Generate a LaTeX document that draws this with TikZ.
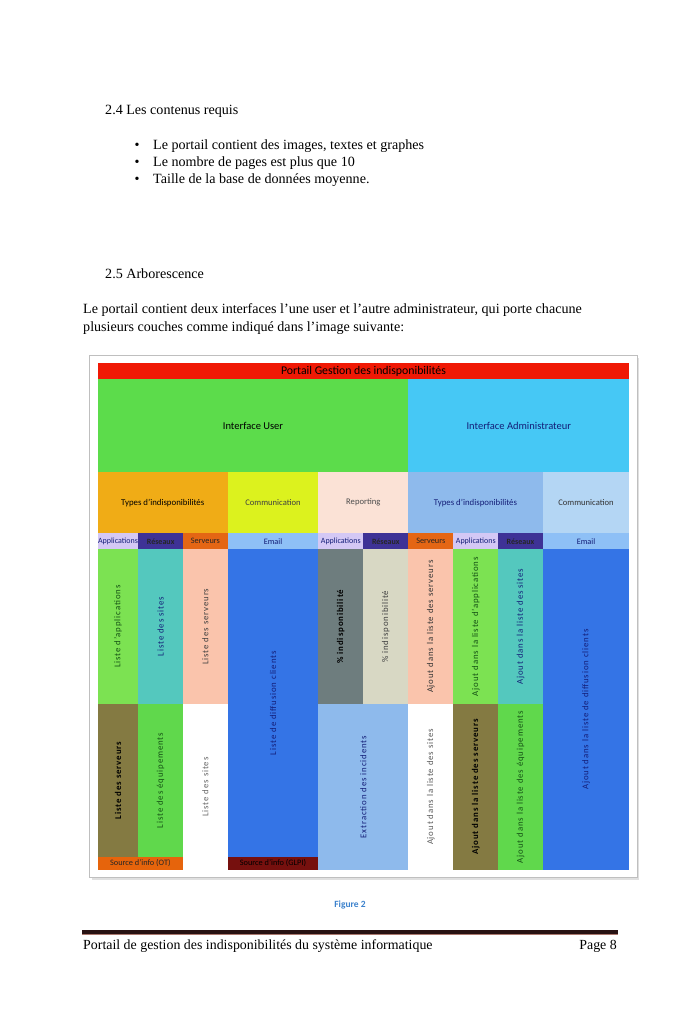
\documentclass[tikz,border=0pt]{standalone}
\usepackage{fontspec}
\setmainfont{Liberation Serif}
\newfontfamily\calfont{Carlito}
\newfontfamily\calspfont[LetterSpace=10]{Carlito}
\definecolor{redbar}{RGB}{240,25,5}
\definecolor{iuser}{RGB}{92,220,75}
\definecolor{iadmin}{RGB}{70,200,245}
\definecolor{typesu}{RGB}{240,172,22}
\definecolor{commu}{RGB}{220,242,30}
\definecolor{report}{RGB}{251,226,214}
\definecolor{typesa}{RGB}{142,186,236}
\definecolor{comma}{RGB}{180,214,244}
\definecolor{hlav}{RGB}{212,200,245}
\definecolor{hind}{RGB}{62,50,150}
\definecolor{hser}{RGB}{228,102,20}
\definecolor{hemail}{RGB}{142,192,246}
\definecolor{lgreen}{RGB}{124,226,82}
\definecolor{tealc}{RGB}{84,200,190}
\definecolor{peach}{RGB}{250,196,172}
\definecolor{dblue}{RGB}{52,116,230}
\definecolor{grayc}{RGB}{110,125,126}
\definecolor{beige}{RGB}{216,216,196}
\definecolor{olive}{RGB}{132,122,66}
\definecolor{greenc}{RGB}{96,216,76}
\definecolor{srcor}{RGB}{230,100,12}
\definecolor{srcred}{RGB}{118,16,14}
\definecolor{extr}{RGB}{142,186,236}
\definecolor{navy}{RGB}{20,30,120}
\definecolor{dgreen}{RGB}{20,80,20}
\definecolor{figblue}{RGB}{60,130,205}
\definecolor{footdark}{RGB}{40,18,18}
\definecolor{footlight}{RGB}{170,120,110}
\tikzset{
  cellbox/.style={draw=none, inner sep=0pt, outer sep=0pt, anchor=north west, align=center},
  vtext/.style={rotate=90, inner sep=0pt, font={\calspfont\fontsize{8.8}{10}\selectfont}},
  vbold/.style={vtext, font={\calspfont\bfseries\fontsize{8.8}{10}\selectfont}},
  body/.style={inner sep=0pt, anchor=base west, font={\fontsize{14.1}{16}\selectfont}},
}
\newcommand\cellat[7]{\node[cellbox, fill=#6, minimum width={(#4-#2)*1pt}, minimum height={(#5-#3)*1pt}] (#1) at (#2,#3) {#7};}
\begin{document}
\begin{tikzpicture}[x=1pt,y=-1pt]
\useasboundingbox[fill=white] (0,0) rectangle (700,1028);
% page text
\node[body] (t24) at (105,114) {2.4 Les contenus requis};
\node[body, anchor=base] (b1) at (137,149) {\textbullet};
\node[body] (l1t) at (153,149) {Le portail contient des images, textes et graphes};
\node[body, anchor=base] (b2) at (137,166) {\textbullet};
\node[body] (l2t) at (153,166) {Le nombre de pages est plus que 10};
\node[body, anchor=base] (b3) at (137,183) {\textbullet};
\node[body] (l3t) at (153,183) {Taille de la base de données moyenne.};
\node[body] (t25) at (105,278) {2.5 Arborescence};
\node[body] (p1) at (83,313) {Le portail contient deux interfaces l’une user et l’autre administrateur, qui porte chacune};
\node[body] (p2) at (83,331) {plusieurs couches comme indiqué dans l’image suivante:};
% frame
\fill[black!12] (91.5,357.5) rectangle (639,880);
\draw[black!25, fill=white] (89.5,355) rectangle (636.7,877);
% top
\cellat{title}{97.7}{363.3}{629.3}{379.3}{redbar}{\calfont\fontsize{11.8}{12}\selectfont Portail Gestion des indisponibilités}
\cellat{iu}{97.7}{379.3}{408.3}{472}{iuser}{\calfont\fontsize{10.5}{12}\selectfont Interface User}
\cellat{ia}{408.3}{379.3}{629.3}{472}{iadmin}{\calfont\fontsize{10.5}{12}\selectfont\color{navy}Interface Administrateur}
% row 2
\cellat{tu}{97.7}{472}{227.7}{533.3}{typesu}{\calfont\fontsize{8.8}{10}\selectfont Types d’indisponibilités}
\cellat{cu}{227.7}{472}{318.3}{533.3}{commu}{\calfont\fontsize{8.6}{10}\selectfont\color{black!75}Communication}
\cellat{rp}{318.3}{472}{408.3}{533.3}{report}{\calfont\fontsize{8.6}{10}\selectfont\color{black!70}Reporting}
\cellat{ta}{408.3}{472}{542.7}{533.3}{typesa}{\calfont\fontsize{8.8}{10}\selectfont\color{navy}Types d’indisponibilités}
\cellat{ca}{542.7}{472}{629.3}{533.3}{comma}{\calfont\fontsize{8.6}{10}\selectfont\color{black!80}Communication}
% headers
\cellat{h1}{97.7}{533.3}{138.3}{549.3}{hlav}{\calfont\fontsize{8}{9}\selectfont\color{navy}Applications}
\cellat{h2}{138.3}{533.3}{183}{549.3}{hind}{\calfont\bfseries\fontsize{8}{9}\selectfont\color{black!85}Réseaux}
\cellat{h3}{183}{533.3}{227.7}{549.3}{hser}{\calfont\fontsize{8.3}{9}\selectfont\color{black!85}Serveurs}
\cellat{h4}{227.7}{533.3}{318.3}{549.3}{hemail}{\calfont\fontsize{8.3}{9}\selectfont\color{navy}Email}
\cellat{h5}{318.3}{533.3}{363.3}{549.3}{hlav}{\calfont\fontsize{8}{9}\selectfont\color{navy}Applications}
\cellat{h6}{363.3}{533.3}{408.3}{549.3}{hind}{\calfont\bfseries\fontsize{8}{9}\selectfont\color{black!85}Réseaux}
\cellat{h7}{408.3}{533.3}{453.3}{549.3}{hser}{\calfont\fontsize{8.3}{9}\selectfont\color{black!85}Serveurs}
\cellat{h8}{453.3}{533.3}{498.3}{549.3}{hlav}{\calfont\fontsize{8}{9}\selectfont\color{navy}Applications}
\cellat{h9}{498.3}{533.3}{542.7}{549.3}{hind}{\calfont\bfseries\fontsize{8}{9}\selectfont\color{black!85}Réseaux}
\cellat{h10}{542.7}{533.3}{629.3}{549.3}{hemail}{\calfont\fontsize{8.3}{9}\selectfont\color{navy}Email}
% upper cells
\cellat{u1}{97.7}{549.3}{138.3}{704}{lgreen}{}
\cellat{u2}{138.3}{549.3}{183}{704}{tealc}{}
\cellat{u3}{183}{549.3}{227.7}{704}{peach}{}
\cellat{u4}{227.7}{549.3}{318.3}{857}{dblue}{}
\cellat{u5}{318.3}{549.3}{363.3}{704}{grayc}{}
\cellat{u6}{363.3}{549.3}{408.3}{704}{beige}{}
\cellat{u7}{408.3}{549.3}{453.3}{704}{peach}{}
\cellat{u8}{453.3}{549.3}{498.3}{704}{lgreen}{}
\cellat{u9}{498.3}{549.3}{542.7}{704}{tealc}{}
\cellat{u10}{542.7}{549.3}{629.3}{870}{dblue}{}
% lower cells
\cellat{w1}{97.7}{704}{138.3}{857}{olive}{}
\cellat{w2}{138.3}{704}{183}{857}{greenc}{}
\cellat{s1}{97.7}{857}{183}{870}{srcor}{\calfont\fontsize{8.3}{9}\selectfont\color{black!85}Source d’info (OT)}
\cellat{w3}{183}{704}{227.7}{870}{white}{}
\cellat{s2}{227.7}{857}{318.3}{870}{srcred}{\calfont\fontsize{8.3}{9}\selectfont\color{black}Source d’info (GLPI)}
\cellat{w4}{318.3}{704}{408.3}{870}{extr}{}
\cellat{w5}{408.3}{704}{453.3}{870}{white}{}
\cellat{w6}{453.3}{704}{498.3}{870}{olive}{}
\cellat{w7}{498.3}{704}{542.7}{870}{greenc}{}
% vertical labels
\node[vtext, text=dgreen] (u1t) at (u1.center) {Liste d’applications};
\node[vtext, text=navy] (u2t) at (u2.center) {Liste des sites};
\node[vtext, text=black!75] (u3t) at (u3.center) {Liste des serveurs};
\node[vtext, text=navy] (u4t) at (u4.center) {Liste de diffusion clients};
\node[vbold, text=black] (u5t) at (u5.center) {\% indisponibilité};
\node[vtext, text=black!75] (u6t) at (u6.center) {\% indisponibilité};
\node[vtext, text=black!80] (u7t) at (u7.center) {Ajout dans la liste des serveurs};
\node[vtext, text=dgreen] (u8t) at (u8.center) {Ajout dans la liste d’applications};
\node[vtext, text=navy] (u9t) at (u9.center) {Ajout dans la liste des sites};
\node[vtext, text=navy] (u10t) at (u10.center) {Ajout dans la liste de diffusion clients};
\node[vbold, text=black] (w1t) at (w1.center) {Liste des serveurs};
\node[vtext, text=dgreen] (w2t) at (w2.center) {Liste des équipements};
\node[vtext, text=black!60] (w3t) at (w3.center) {Liste des sites};
\node[vtext, text=navy] (w4t) at (w4.center) {Extraction des incidents};
\node[vtext, text=black!65] (w5t) at (w5.center) {Ajout dans la liste des sites};
\node[vbold, text=black] (w6t) at (w6.center) {Ajout dans la liste des serveurs};
\node[vtext, text=dgreen] (w7t) at (w7.center) {Ajout dans la liste des équipements};
% caption and footer
\node[inner sep=0pt, font={\calfont\bfseries\fontsize{9.5}{11}\selectfont}, text=figblue] (fig) at (350,905) {Figure 2};
\coordinate (fl) at (82,932);
\coordinate (fr) at (618,932);
\draw[footdark, line width=3.2pt] (fl) -- (fr);
\draw[footlight, line width=1pt] ([yshift=-2.8pt]fl) -- ([yshift=-2.8pt]fr);
\node[inner sep=0pt, anchor=base west, font={\fontsize{13.9}{16}\selectfont}] (foot) at (83,949) {Portail de gestion des indisponibilités du système informatique};
\node[inner sep=0pt, anchor=base east, font={\fontsize{13.9}{16}\selectfont}] (page) at (617,949) {Page 8};
\end{tikzpicture}
\end{document}
